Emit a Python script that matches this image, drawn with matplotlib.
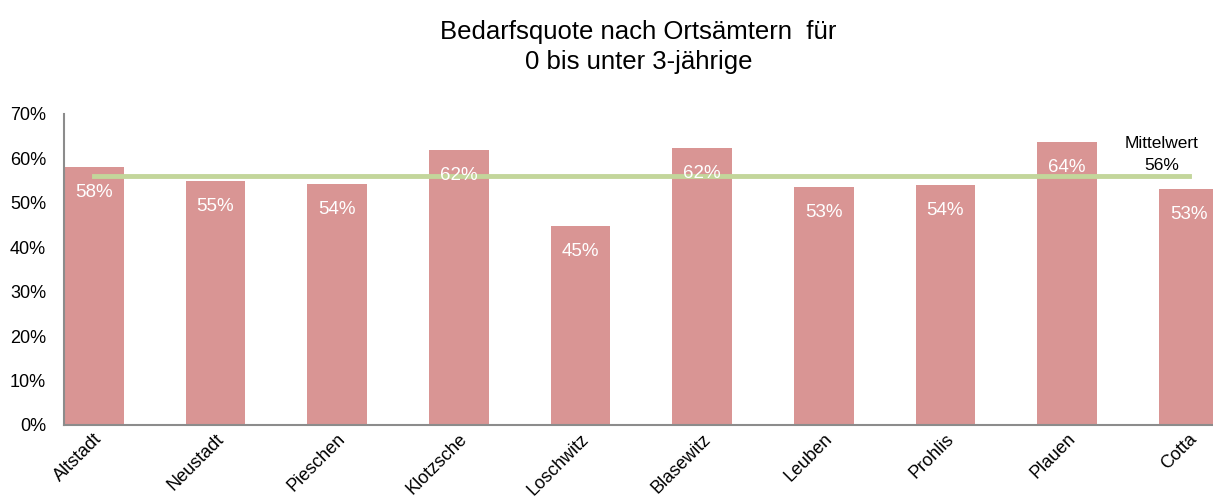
import numpy as np
import matplotlib.pyplot as plt

plt.rcParams['font.family'] = ['Liberation Sans', 'DejaVu Sans']

orte = ['Altstadt', 'Neustadt', 'Pieschen', 'Klotzsche', 'Loschwitz',
        'Blasewitz', 'Leuben', 'Prohlis', 'Plauen', 'Cotta']
quote = [0.58, 0.55, 0.543, 0.619, 0.448, 0.624, 0.536, 0.541, 0.637, 0.532]
labels = ['58%', '55%', '54%', '62%', '45%', '62%', '53%', '54%', '64%', '53%']
mittelwert = 0.56

fig = plt.figure(figsize=(12.13, 5.04), dpi=100)
ax = fig.add_axes([0.0528, 0.157, 0.9472, 0.617])

x = np.arange(len(orte))
ax.bar(x, quote, width=0.49, color='#d99594', zorder=2)
ax.plot([x[0], x[-1]], [mittelwert, mittelwert], color='#c3d69b', lw=3.5, zorder=3)

for xi, q, lab in zip(x, quote, labels):
    ax.text(xi, q - 0.058, lab, color='white', ha='center', va='center', fontsize=13.5, zorder=4)

ax.text(x[-1] - 0.22, mittelwert + 0.074, 'Mittelwert', ha='center', va='center', fontsize=12.5)
ax.text(x[-1] - 0.22, mittelwert + 0.023, '56%', ha='center', va='center', fontsize=12.5)

ax.set_xlim(-0.245, 9.2)
ax.set_ylim(0, 0.7)
ax.set_yticks(np.arange(0, 0.71, 0.1))
ax.set_yticklabels([f'{int(round(v*100))}%' for v in np.arange(0, 0.71, 0.1)], fontsize=13)
ax.set_xticks(x)
ax.set_xticklabels(orte, rotation=45, ha='right', rotation_mode='anchor', fontsize=13)
ax.tick_params(axis='y', length=0, pad=13)
ax.tick_params(axis='x', length=0, pad=4)

for s in ['top', 'right']:
    ax.spines[s].set_visible(False)
for s in ['left', 'bottom']:
    ax.spines[s].set_color('#8c8c8c')
    ax.spines[s].set_linewidth(1.5)

ax.set_title('Bedarfsquote nach Ortsämtern  für\n0 bis unter 3-jährige', fontsize=18.5, pad=32,
             linespacing=1.35)

fig.savefig('out.png', dpi=100)
